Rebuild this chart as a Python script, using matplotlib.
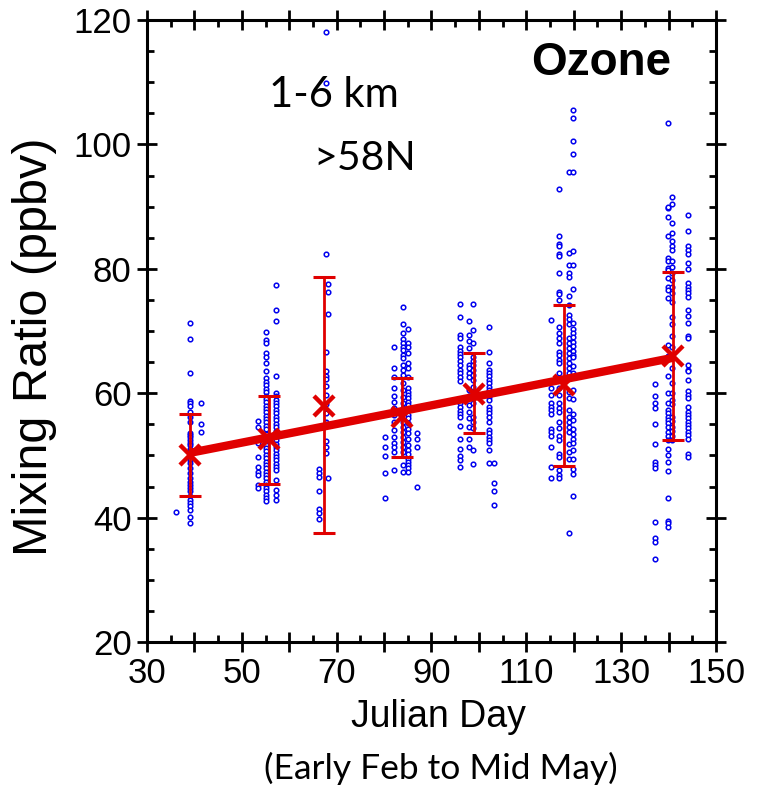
import matplotlib
matplotlib.use("Agg")
import matplotlib.pyplot as plt
from matplotlib.ticker import MultipleLocator
import numpy as np

# ---------------- data ----------------
# cluster 1 (~day 39)
d1a, v1a = 39.1, [71.3, 68.7, 63.3, 58.8, 58.4, 57.9, 57.0, 56.2, 55.4, 53.6, 53.3, 52.9,
                  52.5, 52.0, 51.6, 51.0, 50.4, 49.8, 49.2, 48.7, 47.9, 47.1, 46.3, 45.8,
                  45.2, 44.7, 44.2, 43.4, 42.8, 42.3, 41.8, 41.2, 40.1, 39.2]
d1b, v1b = 41.3, [58.4, 55.0, 53.8]
d1c, v1c = 36.1, [40.9]
# cluster 2 (~day 55)
d2a, v2a = 55.1, [69.9, 68.6, 68.0, 66.4, 65.8, 64.8, 63.6, 62.4, 61.8, 61.3, 60.7, 60.2,
                  59.6, 59.1, 58.6, 58.0, 57.5, 56.9, 56.4, 55.9, 55.3, 54.8, 54.2, 53.4,
                  52.8, 52.3, 51.7, 51.2, 50.7, 50.1, 49.6, 49.0, 48.5, 48.0, 47.4, 46.9,
                  46.3, 45.8, 45.3, 44.7, 44.2, 43.6, 43.1, 42.6]
d2b, v2b = 57.2, [77.4, 73.3, 71.6, 62.7, 60.0, 59.5, 58.9, 58.4, 57.9, 57.3, 56.8, 56.2,
                  55.7, 55.1, 54.6, 54.0, 53.5, 53.0, 52.4, 51.9, 51.3, 50.8, 50.2, 49.7,
                  49.2, 48.6, 48.1, 47.6, 46.0, 44.4, 43.6, 42.8]
d2c, v2c = 53.5, [55.6, 54.6, 52.0, 49.8, 48.2, 47.4, 46.9, 45.2, 44.7]
# cluster 3 (~day 67)
d3a, v3a = 67.8, [118.1, 109.8, 82.3, 66.7, 63.5, 62.8, 62.3, 61.2, 59.7, 58.3, 56.8, 55.4,
                  55.0, 52.3, 51.3, 50.4]
d3b, v3b = 68.2, [77.5, 76.2, 72.8, 46.3]
d3c, v3c = 66.2, [47.8, 47.1, 46.5, 44.3, 41.4, 40.7, 39.7]
# cluster 4 (~day 84)
d4a, v4a = 83.9, [73.8, 71.1, 69.6, 68.7, 68.0, 67.5, 67.0, 66.1, 65.6, 64.5, 63.7, 62.9,
                  61.6, 60.5, 59.4, 58.4, 57.6, 57.0, 55.4, 54.6, 53.8, 53.0, 52.2, 51.4,
                  50.6, 48.5, 47.4]
d4b, v4b = 85.1, [70.4, 68.1, 67.4, 66.4, 64.9, 64.0, 62.6, 60.8, 60.2, 59.7, 59.2, 58.6,
                  58.1, 57.3, 56.5, 56.0, 55.2, 54.2, 53.6, 52.7, 51.7, 50.9, 50.3, 49.5,
                  49.0, 48.5, 47.9, 47.4]
d4c, v4c = 82.0, [67.5, 64.0, 62.6, 60.8, 59.5, 58.6, 57.6, 56.5, 55.4, 54.1, 53.0, 52.0,
                  51.4, 50.6, 47.7]
d4d, v4d = 80.2, [52.9, 51.4, 49.9, 47.2, 43.1]
d4e, v4e = 87.0, [53.6, 52.7, 51.4, 45.0]
# cluster 5 (~day 99)
d5a, v5a = 96.0, [74.4, 72.3, 69.4, 68.8, 67.4, 66.8, 66.3, 65.8, 65.2, 64.5, 63.7, 63.2,
                  62.6, 61.9, 58.4, 57.8, 57.2, 56.7, 56.1, 54.7, 52.6, 51.1, 49.9, 49.2, 48.2]
d5b, v5b = 98.0, [71.6, 69.4, 68.4, 67.2, 64.5, 64.0, 63.2, 62.6, 60.5, 59.5, 58.1, 57.0,
                  56.0, 54.5, 52.7, 51.4]
d5c, v5c = 98.7, [74.4, 70.2, 68.0, 65.9, 65.2, 64.5, 63.7, 62.9, 62.1, 61.0, 60.2, 59.2,
                  58.4, 56.2, 55.4, 54.4, 50.9, 48.6]
d5d, v5d = 102.2, [70.6, 66.7, 64.8, 63.7, 63.2, 62.7, 62.1, 61.6, 61.0, 60.5, 60.0, 59.4,
                   58.9, 57.8, 57.3, 56.8, 56.2, 55.4, 54.1, 53.6, 53.0, 52.5, 52.0, 50.8, 48.7]
d5e, v5e = 103.1, [48.7, 45.5, 44.3, 42.1]
# cluster 6 (~day 118)
d6a, v6a = 116.9, [92.8, 85.3, 84.0, 83.6, 82.3, 82.1, 79.4, 76.2, 76.0, 75.0, 70.7, 69.6,
                   68.8, 68.0, 66.7, 66.1, 65.3, 64.8, 63.2, 62.1, 60.8, 59.7, 58.4, 57.6,
                   56.9, 55.4, 54.4, 53.1, 52.4, 50.3, 49.7, 47.6, 46.8, 46.3]
d6b, v6b = 115.2, [71.7, 60.8, 59.7, 58.5, 57.8, 57.3, 56.7, 54.3, 53.8, 53.1, 51.4, 48.2, 46.3]
d6c, v6c = 119.0, [95.5, 82.6, 80.6, 79.3, 78.7, 75.6, 74.2, 72.6, 71.9, 71.2, 68.8, 68.0,
                   67.2, 66.4, 65.6, 64.8, 64.0, 63.2, 62.4, 60.2, 59.2, 57.3, 56.2, 55.4,
                   54.6, 53.8, 51.9, 50.6, 49.4, 37.5]
d6d, v6d = 119.9, [105.6, 104.2, 100.6, 98.4, 95.5, 82.8, 80.6, 76.7, 71.3, 70.3, 69.6, 69.0,
                   68.3, 67.6, 66.8, 66.1, 65.8, 64.3, 63.2, 60.5, 59.0, 56.7, 55.7, 54.3,
                   53.5, 52.7, 52.0, 50.9, 49.4, 47.8, 47.0, 43.4]
# cluster 7 (~day 141)
d7a, v7a = 139.8, [103.5, 89.8, 90.0, 88.4, 85.3, 81.8, 81.3, 80.2, 79.8, 78.6, 77.0, 76.6,
                   75.3, 67.8, 66.0, 62.7, 60.0, 58.5, 57.3, 56.8, 56.1, 55.7, 55.2, 54.5,
                   53.8, 53.1, 52.4, 51.1, 50.1, 49.0, 47.5, 43.1, 39.5, 39.1, 38.5]
d7b, v7b = 140.7, [91.5, 90.4, 87.4, 85.8, 84.4, 83.6, 83.0, 81.3, 80.3, 79.3, 78.2, 77.1,
                   76.1, 74.6, 72.3, 71.2, 69.2, 67.5, 65.6, 64.0, 61.6, 60.0, 58.9, 58.3,
                   56.2, 55.6, 54.6, 54.0, 53.1, 52.5]
d7c, v7c = 144.0, [88.7, 86.1, 83.6, 83.0, 82.4, 80.9, 79.9, 77.7, 77.1, 76.6, 76.1, 75.4,
                   73.3, 72.4, 71.3, 69.2, 68.8, 64.5, 63.7, 63.5, 62.1, 60.3, 59.7, 59.2,
                   57.8, 57.0, 56.5, 56.0, 55.4, 54.9, 54.4, 53.8, 53.3, 52.7, 50.3, 49.7]
d7d, v7d = 137.2, [61.5, 59.5, 58.5, 57.7, 55.1, 51.9, 49.0, 48.5, 47.9, 39.3, 36.8, 36.0, 33.4]

# binned means with error bars
mean_days = [39.1, 55.8, 67.3, 83.7, 99.0, 118.0, 141.0]
mean_vals = [50.1, 52.7, 58.0, 56.1, 59.8, 61.3, 66.0]
err_low = [43.5, 45.4, 37.6, 49.8, 53.6, 48.3, 52.5]
err_high = [56.6, 59.5, 78.7, 62.4, 66.4, 74.1, 79.5]

# linear trend
trend_days = [39.0, 141.0]
trend_vals = [50.4, 65.7]

# ---------------- plot ----------------
columns = [(d1a, v1a), (d1b, v1b), (d1c, v1c), (d2a, v2a), (d2b, v2b), (d2c, v2c),
           (d3a, v3a), (d3b, v3b), (d3c, v3c), (d4a, v4a), (d4b, v4b), (d4c, v4c),
           (d4d, v4d), (d4e, v4e), (d5a, v5a), (d5b, v5b), (d5c, v5c), (d5d, v5d),
           (d5e, v5e), (d6a, v6a), (d6b, v6b), (d6c, v6c), (d6d, v6d), (d7a, v7a),
           (d7b, v7b), (d7c, v7c), (d7d, v7d)]
xs, ys = [], []
for d, vals in columns:
    xs += [d] * len(vals)
    ys += vals

RED = "#e00000"
BLUE = "#0000ee"

fig = plt.figure(figsize=(7.59, 7.92), dpi=100)
ax = fig.add_axes([147 / 759, 1 - 642 / 792, (716 - 147) / 759, (642 - 20) / 792])

ax.plot(xs, ys, linestyle="none", marker="o", markersize=3.3, markerfacecolor="white",
        markeredgecolor=BLUE, markeredgewidth=1.1, zorder=2)

ax.plot(trend_days, trend_vals, color=RED, linewidth=6.0, solid_capstyle="butt", zorder=3)

mv = np.array(mean_vals)
yerr = [mv - np.array(err_low), np.array(err_high) - mv]
ax.errorbar(mean_days, mean_vals, yerr=yerr, fmt="none", ecolor=RED, elinewidth=2.0,
            capsize=8, capthick=2.2, zorder=4)
ax.plot(mean_days, mean_vals, linestyle="none", marker="x", markersize=15,
        markeredgewidth=3.2, color=RED, zorder=5)

ax.set_xlim(30, 150)
ax.set_ylim(20, 120)
ax.xaxis.set_major_locator(MultipleLocator(10))
ax.xaxis.set_minor_locator(MultipleLocator(5))
ax.yaxis.set_major_locator(MultipleLocator(20))
ax.yaxis.set_minor_locator(MultipleLocator(5))
ax.set_xticks(np.arange(30, 151, 10))
ax.set_xticklabels([str(v) if (v - 30) % 20 == 0 else "" for v in range(30, 151, 10)])

for s in ax.spines.values():
    s.set_linewidth(2.2)
ax.tick_params(which="major", direction="inout", length=14, width=2.0, top=True, right=True,
               labelsize=25, pad=4)
ax.tick_params(which="minor", direction="in", length=5, width=2.0, top=True, right=True)
for lab in ax.get_xticklabels() + ax.get_yticklabels():
    lab.set_fontfamily("Liberation Sans")

ax.text(125.8, 113.1, "Ozone", fontsize=33, fontweight="bold", family="Liberation Sans",
        ha="center", va="center")
ax.text(69.5, 107.9, "1-6 km", fontsize=30, family="Lato", ha="center", va="center")
ax.text(76.0, 97.8, ">58N", fontsize=29.5, family="Lato", ha="center", va="center")

fig.text(35 / 759, 1 - 347 / 792, "Mixing Ratio (ppbv)", rotation=90, fontsize=35,
         family="Liberation Sans", ha="center", va="center")
fig.text(438 / 759, 1 - 717 / 792, "Julian Day", fontsize=27, family="Liberation Sans",
         ha="center", va="center")
fig.text(441 / 759, 1 - 768 / 792, "(Early Feb to Mid May)", fontsize=25.5, family="Lato",
         ha="center", va="center")

fig.savefig("out.png", dpi=100)
